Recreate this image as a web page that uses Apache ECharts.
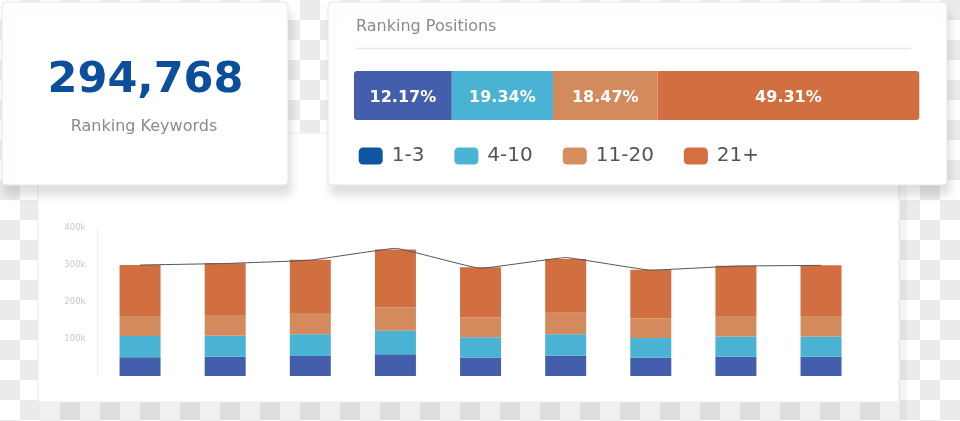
<!DOCTYPE html>
<html>
<head>
<meta charset="utf-8">
<script src="https://cdn.jsdelivr.net/npm/echarts@6/dist/echarts.min.js"></script>
<style>
  html, body { margin: 0; padding: 0; }
  body {
    width: 960px; height: 421px; overflow: hidden;
    background: repeating-conic-gradient(#ebebeb 0% 25%, #ffffff 0% 50%) 0 0 / 40px 40px;
  }
  #chart { width: 960px; height: 421px; }
</style>
</head>
<body>
<div id="chart"></div>
<script>
// ---- data ----
const kpiValue = '294,768';
const kpiLabel = 'Ranking Keywords';
const positionsTitle = 'Ranking Positions';
const positionNames = ['1-3', '4-10', '11-20', '21+'];
const positionLabels = ['12.17%', '19.34%', '18.47%', '49.31%'];
const positionShares = [17.3, 17.9, 18.5, 46.3]; // visual segment lengths (% of bar)
const periods = ['1', '2', '3', '4', '5', '6', '7', '8', '9'];
const pos1to3 = [51000, 52000, 54000, 59000, 50000, 55000, 49000, 52000, 52000];
const pos4to10 = [57000, 57000, 59000, 63000, 55000, 58000, 54000, 55000, 55000];
const pos11to20 = [54000, 56000, 57000, 63000, 54000, 58000, 53000, 55000, 55000];
const pos21plus = [138000, 140000, 144000, 157000, 135000, 145000, 131000, 136000, 137000];
const totals = [300000, 304000, 313000, 345000, 291000, 320000, 286000, 297000, 299000];
const yTicks = [0, 100000, 200000, 300000, 400000];

// ---- styles ----
const barColors = ['#435fab', '#4ab2d2', '#d38b5e', '#d26f40'];
const legendColors = ['#0f55a0', '#4bb4d4', '#d68e61', '#d4703f'];
const FONT = '"DejaVu Sans", Verdana, sans-serif';

const stackData = [pos1to3, pos4to10, pos11to20, pos21plus];

const chart = echarts.init(document.getElementById('chart'), null, { renderer: 'canvas' });

const series = [];
stackData.forEach((d, i) => {
  series.push({
    name: positionNames[i], type: 'bar', stack: 'main',
    xAxisIndex: 0, yAxisIndex: 0,
    barWidth: 41, data: d,
    itemStyle: { color: barColors[i] },
    emphasis: { disabled: true }, silent: true
  });
});
series.push({
  name: 'Total', type: 'line', xAxisIndex: 0, yAxisIndex: 0,
  data: totals, symbol: 'none', smooth: 0.08,
  lineStyle: { color: '#555555', width: 1 },
  z: 5, emphasis: { disabled: true }, silent: true
});
positionShares.forEach((v, i) => {
  const last = positionShares.length - 1;
  series.push({
    name: positionNames[i], type: 'bar', stack: 'pos',
    xAxisIndex: 1, yAxisIndex: 1,
    barWidth: 49, data: [v],
    itemStyle: {
      color: barColors[i],
      borderRadius: i === 0 ? [3, 0, 0, 3] : (i === last ? [0, 3, 3, 0] : 0)
    },
    label: {
      show: true, position: 'inside', formatter: () => positionLabels[i],
      color: '#ffffff', fontFamily: FONT, fontWeight: 'bold', fontSize: 16,
      offset: [0, 2]
    },
    emphasis: { disabled: true }, silent: true
  });
});

const option = {
  animation: false,
  backgroundColor: 'transparent',
  graphic: [
    // bottom card
    { type: 'rect', z: -10, shape: { x: 40, y: 402, width: 860, height: 18 },
      style: { fill: 'rgba(0,0,0,0.06)' } },
    { type: 'rect', z: -10, shape: { x: 899, y: 140, width: 8, height: 280 },
      style: { fill: 'rgba(0,0,0,0.04)' } },
    { type: 'rect', z: -9, shape: { x: 38, y: 133, width: 861, height: 269, r: 2 },
      style: { fill: '#ffffff', stroke: '#ececec', lineWidth: 1 } },
    // top-left card
    { type: 'rect', z: -8, shape: { x: 2, y: 2, width: 286, height: 183, r: 4 },
      style: { fill: '#ffffff', stroke: '#e6e6e6', lineWidth: 1,
        shadowBlur: 10, shadowOffsetX: 3, shadowOffsetY: 10, shadowColor: 'rgba(0,0,0,0.13)' } },
    // top-right card
    { type: 'rect', z: -8, shape: { x: 328, y: 2, width: 619, height: 183, r: 4 },
      style: { fill: '#ffffff', stroke: '#e6e6e6', lineWidth: 1,
        shadowBlur: 10, shadowOffsetX: 3, shadowOffsetY: 10, shadowColor: 'rgba(0,0,0,0.13)' } },
    { type: 'text', z: -7, x: 145.5, y: 81,
      style: { text: kpiValue, fill: '#0b4f9c', font: 'bold 43px ' + FONT,
        textAlign: 'center', textVerticalAlign: 'middle' } },
    { type: 'text', z: -7, x: 144, y: 127,
      style: { text: kpiLabel, fill: '#8a8a8a', font: '16px ' + FONT,
        textAlign: 'center', textVerticalAlign: 'middle' } },
    { type: 'text', z: -7, x: 356, y: 27,
      style: { text: positionsTitle, fill: '#8a8a8a', font: '16px ' + FONT,
        textAlign: 'left', textVerticalAlign: 'middle' } },
    { type: 'line', z: -7, shape: { x1: 356, y1: 48.5, x2: 911, y2: 48.5 },
      style: { stroke: '#e9e9e9', lineWidth: 1.5 } }
  ],
  legend: {
    left: 358.7, top: 146, orient: 'horizontal', padding: 0,
    itemWidth: 24, itemHeight: 17, itemGap: 30, icon: 'roundRect',
    selectedMode: false,
    textStyle: { fontFamily: FONT, fontSize: 20, color: '#555555', padding: [0, 0, 0, 4] },
    data: positionNames.map((n, i) => ({ name: n, itemStyle: { color: legendColors[i] } }))
  },
  grid: [
    { left: 97.5, right: 96.4, top: 228, bottom: 45, containLabel: false },
    { left: 354, right: 40.7, top: 71, height: 49, containLabel: false }
  ],
  xAxis: [
    { type: 'category', gridIndex: 0, data: periods,
      axisLine: { show: false }, axisTick: { show: false }, axisLabel: { show: false },
      splitLine: { show: false } },
    { type: 'value', gridIndex: 1, min: 0, max: 100, show: false }
  ],
  yAxis: [
    { type: 'value', gridIndex: 0, min: yTicks[0], max: yTicks[yTicks.length - 1],
      interval: yTicks[1] - yTicks[0],
      axisLine: { show: true, lineStyle: { color: '#eeeeee', width: 1 } },
      axisTick: { show: false }, splitLine: { show: false },
      axisLabel: { margin: 12, color: '#c8c8c8', fontFamily: FONT, fontSize: 8.5,
        formatter: v => v === 0 ? '' : (v / 1000) + 'k' } },
    { type: 'category', gridIndex: 1, data: ['positions'], show: false }
  ],
  series: series
};
chart.setOption(option);
</script>
</body>
</html>
